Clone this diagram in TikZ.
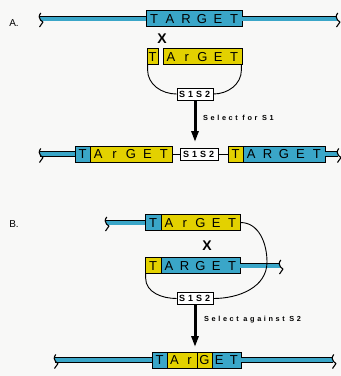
\documentclass[tikz,border=0pt]{standalone}
\usepackage{fontspec}
\setmainfont{Liberation Sans}
\newfontfamily\labelfont[LetterSpace=36]{Liberation Sans Bold}
\usetikzlibrary{arrows.meta}
\definecolor{tblue}{HTML}{3AA6C8}
\definecolor{tyellow}{HTML}{E3D100}
\definecolor{paper}{HTML}{F8F8F7}
% evenly spaced letters, one fixed-width cell each
\newcommand\cells[2]{\foreach \ltr in {#2}{\makebox[#1]{\ltr}}}
\begin{document}
\begin{tikzpicture}[x=1pt,y=-1pt,
  bar/.style={double=tblue,double distance=4pt,line width=0.8pt},
  gene/.style={draw,line width=0.8pt,inner sep=0pt,minimum height=16pt,
    text height=9.3pt,text depth=0pt,font=\fontsize{13}{13}\selectfont},
  bbox/.style={gene,fill=tblue},
  ybox/.style={gene,fill=tyellow},
  sbox/.style={draw,line width=0.8pt,fill=white,inner sep=0pt,minimum width=36pt,
    minimum height=12pt,text height=6.6pt,text depth=0pt,
    font=\fontsize{9}{9}\selectfont\bfseries},
  link/.style={line width=0.9pt},
  bigarrow/.style={line width=3pt,-{Triangle[length=11pt,width=7pt]}},
  xmark/.style={font=\fontsize{14}{14}\selectfont\bfseries},
  lab/.style={font=\fontsize{10}{10}\selectfont},
  sel/.style={anchor=west,inner sep=0pt,font=\labelfont\fontsize{7.3}{7.3}\selectfont},
  squig/.pic={\draw[line width=1.1pt,line join=round]
    (0.8,-5.5) .. controls (-1.5,-3) and (-1,0) .. (0.5,1.5) -- (3,3.5) -- (-0.5,8.5);}
]
\fill[paper] (0,0) rectangle (341,376);
\useasboundingbox (0,0) rectangle (341,376);

% ---------- A: insertion ----------
\node[lab] (la) at (14,23) {A.};
\node[bbox,minimum width=96pt] (a1) at (194,18.5) {\cells{16pt}{T,A,R,G,E,T}};
\coordinate (a1L) at (40,18.5);
\coordinate (a1R) at (337,18.5);
\draw[bar] (a1L) -- (a1.west);
\draw[bar] (a1.east) -- (a1R);
\pic at (a1L) {squig};
\pic at (a1R) {squig};
\node[xmark] (xa) at (162,39) {X};
\node[ybox,minimum width=11pt] (a2) at (152.5,56.5) {T};
\node[ybox,minimum width=79pt] (a3) at (202.5,56.5) {\cells{15.8pt}{A,r,G,E,T}};
\node[sbox] (a4) at (195,94) {\cells{8.5pt}{S,1,S,2}};
\draw[link] ([xshift=1pt]a2.south west) -- ++(0,5) to[out=-90,in=180] (a4.west);
\draw[link] ([xshift=-1pt]a3.south east) -- ++(0,5) to[out=-90,in=0] (a4.east);
\coordinate (a5) at (195,142);
\draw[bigarrow] (a4.south) -- (a5);
\node[sel] (sa) at (203,117.5) {Select for S1};

% product of A
\node[bbox,minimum width=15pt] (b1) at (82.5,154) {T};
\node[ybox,minimum width=82pt] (b2) at (131,154) {\cells{16.4pt}{A,r,G,E,T}};
\node[sbox,minimum width=38pt] (b3) at (199,154) {\cells{8.5pt}{S,1,S,2}};
\node[ybox,minimum width=15pt] (b4) at (235.5,154) {T};
\node[bbox,minimum width=82pt] (b5) at (284,154) {\cells{16.4pt}{A,R,G,E,T}};
\coordinate (b0) at (40,154);
\coordinate (b6) at (338,154);
\draw[bar] (b0) -- (b1.west);
\draw[bar] (b5.east) -- (b6);
\draw[link] (b2.east) -- (b3.west);
\draw[link] (b3.east) -- (b4.west);
\pic at (b0) {squig};
\pic at (b6) {squig};

% ---------- B: excision ----------
\node[lab] (lb) at (14,224) {B.};
\node[bbox,minimum width=16pt] (c1) at (153,222.5) {T};
\node[ybox,minimum width=79pt] (c2) at (200.5,222.5) {\cells{15.8pt}{A,r,G,E,T}};
\coordinate (c0) at (106,222.5);
\draw[bar] (c0) -- (c1.west);
\pic at (c0) {squig};
\node[xmark] (xb) at (207,246) {X};
\node[ybox,minimum width=16pt] (d1) at (153,265.5) {T};
\node[bbox,minimum width=79pt] (d2) at (200.5,265.5) {\cells{15.8pt}{A,R,G,E,T}};
\coordinate (d3) at (280,265.5);
\draw[bar] (d2.east) -- (d3);
\pic at (d3) {squig};
\node[sbox] (d4) at (195,298.5) {\cells{8.5pt}{S,1,S,2}};
\draw[link] ([xshift=1pt]d1.south west) -- ++(0,4) to[out=-90,in=180] (d4.west);
\coordinate (d5) at (267,262);
\draw[link] (c2.east) to[out=0,in=90] (d5) to[out=-90,in=0] (d4.east);
\coordinate (d6) at (195,347);
\draw[bigarrow] (d4.south) -- (d6);
\node[sel] (sb) at (204,320) {Select against S2};

% product of B
\node[bbox,minimum width=15pt] (e1) at (159.5,360) {T};
\node[ybox,minimum width=30pt] (e2) at (182,360) {\cells{15pt}{A,r}};
\node[ybox,minimum width=15pt] (e3) at (204.5,360) {G};
\node[bbox,minimum width=29pt] (e4) at (226.5,360) {\cells{14.5pt}{E,T}};
\coordinate (e0) at (55,360);
\coordinate (e5) at (333,360);
\draw[bar] (e0) -- (e1.west);
\draw[bar] (e4.east) -- (e5);
\pic at (e0) {squig};
\pic at (e5) {squig};
\end{tikzpicture}
\end{document}
